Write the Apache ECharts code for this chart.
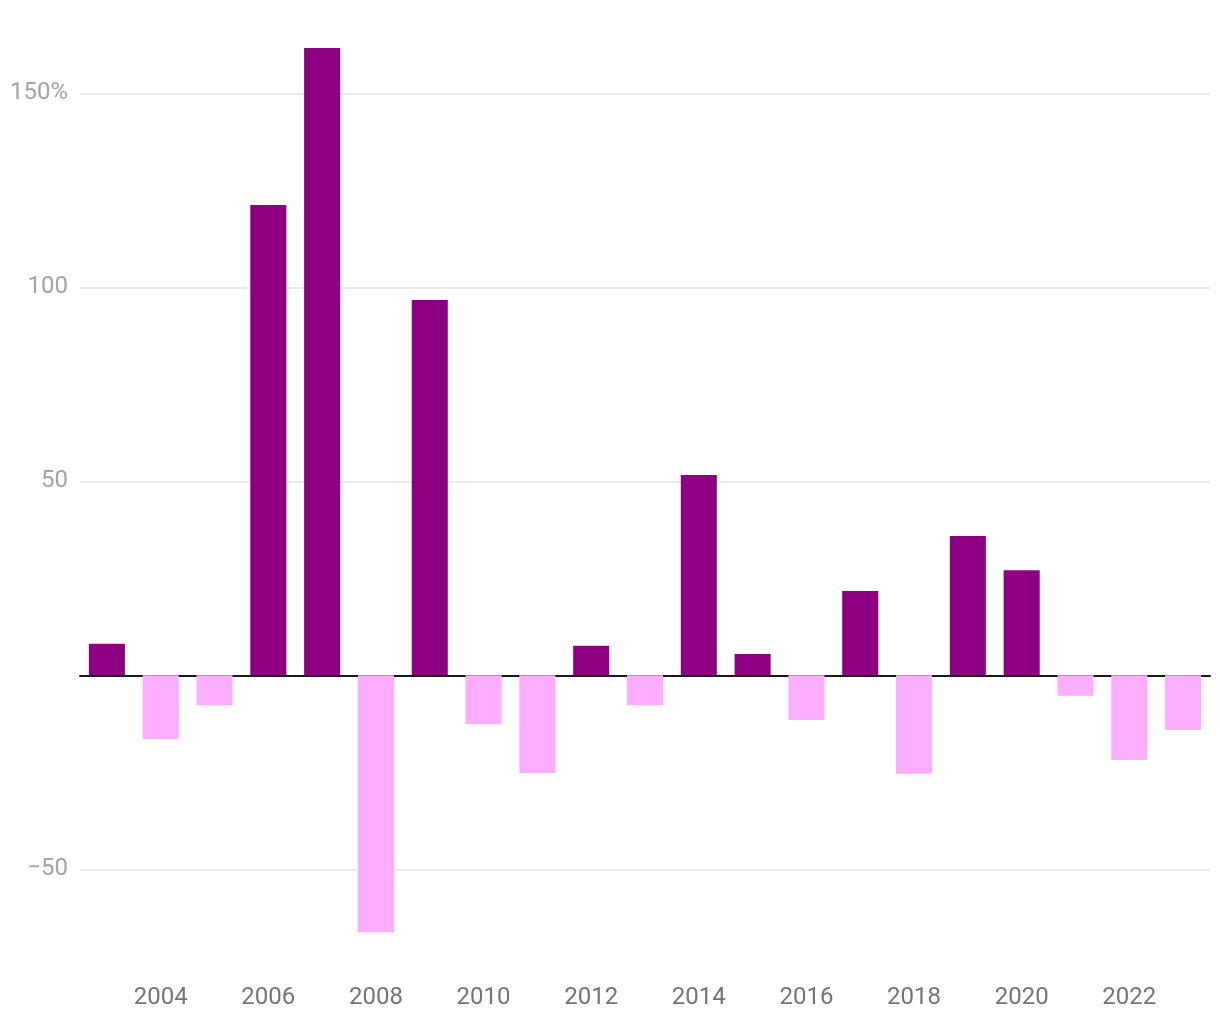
<!DOCTYPE html>
<html>
<head>
<meta charset="utf-8">
<script src="https://cdn.jsdelivr.net/npm/echarts@6/dist/echarts.min.js"></script>
<style>
html,body{margin:0;padding:0;background:#fff;}
#chart{width:1220px;height:1020px;}
</style>
</head>
<body>
<div id="chart"></div>
<script>
const years = ['2003','2004','2005','2006','2007','2008','2009','2010','2011','2012','2013','2014','2015','2016','2017','2018','2019','2020','2021','2022','2023'];
const changes = [8.1, -16.4, -7.7, 121.2, 161.7, -66.2, 96.7, -12.6, -25.2, 7.6, -7.7, 51.6, 5.5, -11.5, 21.7, -25.4, 35.9, 27.1, -5.3, -21.8, -14.1];
const yMin = -70;
const yMax = 170;
const yLabelValues = [-50, 50, 100, 150];

const POS = '#8e0082';
const NEG = '#fbadff';

const chart = echarts.init(document.getElementById('chart'));
chart.setOption({
  animation: false,
  backgroundColor: '#ffffff',
  grid: { left: 80, right: 10, top: 15.7, bottom: 73.1, containLabel: false },
  xAxis: [
    {
      type: 'category',
      data: years,
      position: 'bottom',
      offset: 31,
      axisLine: { show: false, onZero: false },
      axisTick: { show: false },
      splitLine: { show: false },
      axisLabel: {
        interval: (i) => i % 2 === 1,
        margin: 8,
        color: '#757575',
        fontFamily: 'Roboto',
        fontSize: 24
      }
    },
    {
      type: 'category',
      data: years,
      position: 'bottom',
      axisLine: { show: true, onZero: true, lineStyle: { color: '#1a1a1a', width: 2 } },
      axisTick: { show: false },
      axisLabel: { show: false },
      splitLine: { show: false }
    }
  ],
  yAxis: {
    type: 'value',
    min: yMin,
    max: yMax,
    splitNumber: 5,
    axisLine: { show: false },
    axisTick: { show: false },
    splitLine: { show: true, showMinLine: false, showMaxLine: false, lineStyle: { color: '#e4e4e4', width: 1.5 } },
    axisLabel: {
      margin: 12,
      showMinLabel: false,
      showMaxLabel: false,
      color: '#a3a3a3',
      fontFamily: 'Roboto',
      fontSize: 24,
      formatter: (v) => {
        if (yLabelValues.indexOf(v) < 0) return '';
        if (v === yLabelValues[yLabelValues.length - 1]) return v + '%';
        if (v < 0) return '\u2212' + Math.abs(v);
        return String(v);
      }
    }
  },
  series: [{
    type: 'bar',
    xAxisIndex: 0,
    data: changes,
    barCategoryGap: '33%',
    itemStyle: { color: (p) => (p.value >= 0 ? POS : NEG) }
  }]
});
</script>
</body>
</html>
